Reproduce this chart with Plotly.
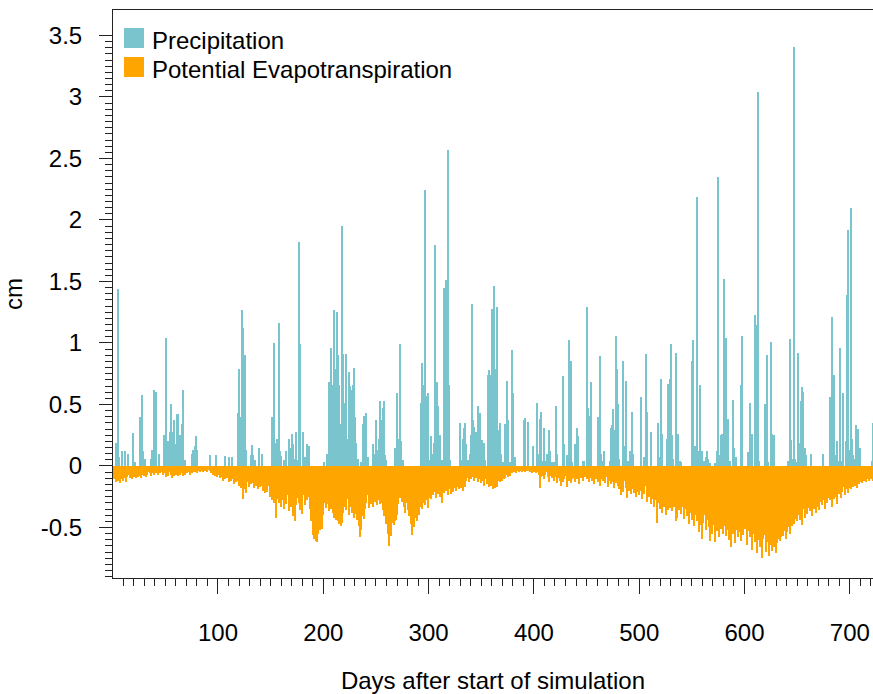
import plotly.graph_objects as go
import numpy as np

# ---------------- data (cm per day) ----------------
precip_days = [
    3, 5, 6, 9, 12, 15, 19, 20, 21, 26, 28, 29, 31, 36, 37, 39, 40, 41, 44, 49,
    51, 52, 53, 54, 55, 56, 57, 58, 60, 61, 62, 63, 64, 66, 67, 69, 75, 76, 78, 79,
    80, 92, 98, 107, 110, 113,
    119, 120, 121, 122, 123, 124, 125, 126, 127, 131, 132, 133, 135, 139, 142, 151, 153, 155, 156, 158,
    159, 160, 163, 165, 167, 168, 170, 171, 173, 174, 176, 177, 178, 181, 183, 185, 186,
    201, 204, 205, 206, 207, 208, 210, 211, 212, 213, 214, 215, 217, 218, 219, 220, 222, 223, 224, 225,
    226, 228, 229, 230, 231, 233, 236, 238, 239, 241, 242, 247, 248, 250, 251, 253, 254, 255, 257, 258,
    259, 260, 268, 270, 271, 272, 273, 274, 276,
    293, 294, 296, 297, 298, 299, 300, 302, 303, 305, 306, 307, 308, 309, 311, 312, 314, 315, 316, 317,
    318, 319, 320,
    330, 331, 333, 334, 335, 336, 337, 339, 340, 341, 342, 343, 345, 346, 347, 348, 349, 351, 352, 353, 354,
    356, 357, 358, 359, 360, 361, 362, 363, 364, 365, 366, 367, 368, 369, 371, 373, 374, 375, 376, 377,
    379, 380, 382,
    391, 392, 394, 399, 403, 404, 406, 407, 409, 410, 411, 412, 414, 415, 417, 418, 419, 421, 422, 428,
    429, 431, 433, 434, 435, 436, 439, 440, 441, 442, 447, 448, 450, 451, 452, 454,
    461, 462, 463, 464, 466, 467, 472, 473, 474, 475, 476, 478, 479, 480, 481, 485, 486, 487, 488, 489,
    491, 493, 494,
    502, 505, 506, 507, 511, 518, 519, 521, 522, 526, 527, 529, 530, 531, 532, 535, 536, 537, 539, 540,
    550, 551, 553, 554, 555, 556, 558, 560, 562, 563, 564, 565, 567, 572, 574, 575, 577, 578, 579, 581,
    582, 583, 584, 586, 589, 590, 592, 597, 598, 603, 604, 605, 606, 607,
    610, 611, 613, 614, 619, 621, 622, 625, 626, 628, 641, 643, 644, 646, 647, 648, 650, 651, 652, 654,
    655, 656, 657, 658, 663, 675,
    681, 682, 683, 684, 685, 687, 688, 690, 691, 692, 694, 696, 697, 698, 700, 701, 702, 703, 704, 706,
    708, 710, 721, 722,
]
precip_cm = [
    0.19, 1.44, 0.07, 0.12, 0.12, 0.10, 0.27, 0.03, 0.03, 0.40, 0.58, 0.12, 0.06, 0.06, 0.13, 0.62, 0.32, 0.60, 0.10, 0.25,
    1.04, 0.07, 0.20, 0.28, 0.50, 0.28, 0.20, 0.37, 0.18, 0.42, 0.42, 0.18, 0.25, 0.34, 0.62, 0.05, 0.10, 0.13, 0.16, 0.24,
    0.13, 0.09, 0.09, 0.08, 0.07, 0.07,
    0.43, 0.79, 0.40, 0.22, 1.27, 1.12, 0.31, 0.90, 0.13, 0.09, 0.17, 0.09, 0.05, 0.15, 0.10, 0.40, 1.00, 0.19, 0.22, 1.16,
    0.12, 0.08, 0.05, 0.12, 0.22, 0.15, 0.26, 0.18, 0.06, 0.28, 0.05, 1.82, 0.99, 0.28, 0.07, 0.18, 0.16,
    0.03, 0.10, 0.68, 0.50, 0.96, 0.66, 1.27, 0.78, 0.79, 1.25, 0.90, 0.66, 0.34, 1.95, 0.91, 0.51, 0.91, 0.22, 0.76, 0.65,
    0.62, 0.66, 0.80, 0.40, 0.19, 0.06, 0.03, 0.34, 0.41, 0.43, 0.07, 0.18, 0.10, 0.37, 0.13, 0.22, 0.53, 0.37, 0.47, 0.53,
    0.09, 0.05, 0.15, 0.59, 0.22, 0.13, 0.99, 0.20, 0.05,
    0.51, 0.84, 0.66, 2.24, 0.57, 0.59, 0.05, 0.24, 0.10, 0.19, 1.80, 0.56, 0.68, 0.49, 0.25, 0.05, 0.05, 1.45, 0.53, 1.51,
    2.57, 0.66, 0.05,
    0.35, 0.05, 0.22, 0.31, 0.35, 0.18, 0.05, 0.10, 0.25, 1.32, 0.37, 0.32, 0.28, 0.18, 0.49, 0.05, 0.43, 0.21, 0.19, 0.19, 0.05,
    0.74, 0.78, 0.74, 0.65, 1.28, 0.72, 1.46, 0.65, 0.79, 1.29, 0.29, 0.29, 0.35, 0.10, 0.03, 0.34, 0.69, 0.37, 0.03, 0.03,
    0.94, 0.59, 0.07,
    0.37, 0.39, 0.36, 0.16, 0.51, 0.10, 0.38, 0.44, 0.04, 0.31, 0.04, 0.10, 0.29, 0.12, 0.03, 0.03, 0.03, 0.49, 0.10, 0.73,
    0.18, 0.09, 1.02, 0.20, 0.85, 0.03, 0.18, 0.10, 0.31, 0.24, 0.04, 0.04, 1.29, 0.47, 0.41, 0.68,
    0.40, 0.11, 0.89, 0.10, 0.04, 0.12, 0.04, 0.31, 0.33, 0.46, 0.29, 1.06, 0.79, 0.50, 0.06, 0.85, 0.16, 0.69, 0.04, 0.04,
    0.12, 0.44, 0.10,
    0.56, 0.07, 0.91, 0.44, 0.28, 0.35, 0.07, 0.71, 0.26, 0.22, 0.67, 0.71, 0.99, 0.25, 0.06, 0.92, 0.21, 0.26, 0.04, 0.03,
    0.85, 1.02, 0.16, 0.03, 2.19, 0.12, 0.66, 0.12, 0.04, 0.07, 0.12, 0.06, 0.02, 0.02, 0.12, 2.35, 0.09, 0.25, 0.26, 1.52,
    1.04, 0.24, 0.38, 0.04, 0.54, 0.15, 0.07, 0.66, 1.06, 0.11, 0.04, 0.51, 0.24, 0.26,
    1.23, 1.15, 3.04, 0.04, 0.50, 0.90, 0.03, 1.01, 0.26, 0.25, 0.04, 1.03, 0.21, 0.06, 3.41, 0.06, 0.03, 0.92, 0.19, 0.53,
    0.64, 0.60, 0.15, 0.09, 0.10, 0.10,
    0.56, 0.04, 1.21, 0.04, 0.74, 0.09, 0.20, 0.04, 0.96, 0.04, 0.59, 0.20, 1.39, 1.92, 0.13, 2.10, 0.22, 0.09, 0.06, 0.33,
    0.30, 0.15, 0.04, 0.35,
]

# potential evapotranspiration, cm/day (drawn downward), day 1 onward
pet_cm = [
    0.11, 0.09, 0.13, 0.08, 0.12, 0.10, 0.14, 0.09, 0.11, 0.12, 0.08, 0.10, 0.13, 0.09, 0.07, 0.10, 0.08, 0.11, 0.06, 0.09,
    0.08, 0.10, 0.07, 0.09, 0.06, 0.08, 0.10, 0.07, 0.05, 0.08, 0.06, 0.09, 0.07, 0.05, 0.06, 0.08, 0.04, 0.06, 0.07, 0.05,
    0.06, 0.04, 0.07, 0.05, 0.06, 0.03, 0.05, 0.07, 0.06, 0.04, 0.09, 0.06, 0.08, 0.05, 0.07, 0.10, 0.06, 0.08, 0.05, 0.07,
    0.06, 0.08, 0.05, 0.07, 0.04, 0.06, 0.08, 0.05, 0.07, 0.04, 0.06, 0.05, 0.07, 0.04, 0.06, 0.05, 0.03, 0.05, 0.04, 0.06,
    0.04, 0.03, 0.05, 0.04, 0.03, 0.05, 0.02, 0.04, 0.03, 0.05, 0.03, 0.04, 0.06, 0.04, 0.07, 0.05, 0.08, 0.06, 0.09, 0.05,
    0.07, 0.10, 0.06, 0.09, 0.12, 0.08, 0.11, 0.07, 0.10, 0.13, 0.09, 0.12, 0.08, 0.11, 0.15, 0.10, 0.13, 0.09, 0.12, 0.16,
    0.11, 0.18, 0.14, 0.27, 0.19, 0.15, 0.22, 0.13, 0.17, 0.12, 0.15, 0.11, 0.14, 0.18, 0.12, 0.16, 0.13, 0.19, 0.14, 0.17,
    0.12, 0.16, 0.20, 0.15, 0.22, 0.17, 0.21, 0.16, 0.25, 0.19, 0.28, 0.22, 0.30, 0.24, 0.42, 0.27, 0.21, 0.30, 0.25, 0.33,
    0.22, 0.28, 0.35, 0.26, 0.31, 0.24, 0.37, 0.29, 0.33, 0.27, 0.41, 0.30, 0.45, 0.32, 0.26, 0.22, 0.30, 0.36, 0.28, 0.39,
    0.16, 0.24, 0.32, 0.20, 0.28, 0.25, 0.35, 0.45, 0.43, 0.56, 0.59, 0.57, 0.61, 0.62, 0.55, 0.50, 0.52, 0.48, 0.51, 0.40,
    0.30, 0.22, 0.34, 0.31, 0.37, 0.29, 0.35, 0.32, 0.38, 0.42, 0.36, 0.44, 0.39, 0.45, 0.47, 0.43, 0.49, 0.46, 0.38, 0.33,
    0.29, 0.36, 0.27, 0.40, 0.33, 0.31, 0.38, 0.34, 0.42, 0.39, 0.37, 0.44, 0.36, 0.49, 0.58, 0.52, 0.41, 0.37, 0.43, 0.35,
    0.30, 0.24, 0.34, 0.20, 0.31, 0.27, 0.33, 0.25, 0.29, 0.23, 0.32, 0.28, 0.26, 0.31, 0.24, 0.30, 0.36, 0.41, 0.34, 0.47,
    0.55, 0.65, 0.44, 0.57, 0.46, 0.43, 0.48, 0.45, 0.44, 0.40, 0.31, 0.18, 0.26, 0.22, 0.29, 0.24, 0.33, 0.38, 0.30, 0.36,
    0.41, 0.35, 0.47, 0.56, 0.44, 0.50, 0.42, 0.38, 0.45, 0.36, 0.40, 0.33, 0.27, 0.35, 0.30, 0.25, 0.32, 0.28, 0.34, 0.26,
    0.22, 0.27, 0.19, 0.24, 0.14, 0.21, 0.26, 0.17, 0.23, 0.20, 0.25, 0.13, 0.30, 0.18, 0.22, 0.15, 0.20, 0.24, 0.12, 0.19,
    0.23, 0.16, 0.21, 0.18, 0.14, 0.20, 0.17, 0.13, 0.19, 0.16, 0.18, 0.15, 0.20, 0.14, 0.17, 0.12, 0.10, 0.13, 0.08, 0.11,
    0.06, 0.09, 0.12, 0.07, 0.10, 0.08, 0.13, 0.11, 0.09, 0.14, 0.10, 0.12, 0.16, 0.11, 0.15, 0.13, 0.17, 0.12, 0.16, 0.14,
    0.19, 0.15, 0.18, 0.13, 0.17, 0.12, 0.11, 0.13, 0.09, 0.12, 0.08, 0.11, 0.10, 0.07, 0.09, 0.06, 0.08, 0.05, 0.06, 0.04,
    0.05, 0.04, 0.06, 0.03, 0.04, 0.05, 0.03, 0.04, 0.05, 0.04, 0.03, 0.05, 0.04, 0.04, 0.03, 0.05, 0.04, 0.06, 0.04, 0.05,
    0.04, 0.06, 0.05, 0.04, 0.07, 0.18, 0.09, 0.06, 0.08, 0.11, 0.07, 0.05, 0.09, 0.13, 0.08, 0.06, 0.10, 0.07, 0.12, 0.08,
    0.09, 0.14, 0.10, 0.07, 0.12, 0.16, 0.09, 0.13, 0.11, 0.08, 0.17, 0.10, 0.12, 0.09, 0.14, 0.11, 0.07, 0.10, 0.13, 0.08,
    0.11, 0.09, 0.15, 0.07, 0.10, 0.08, 0.12, 0.06, 0.09, 0.11, 0.08, 0.13, 0.10, 0.07, 0.12, 0.09, 0.15, 0.08, 0.11, 0.10,
    0.13, 0.09, 0.16, 0.11, 0.08, 0.12, 0.10, 0.14, 0.09, 0.17, 0.12, 0.10, 0.15, 0.11, 0.13, 0.18, 0.10, 0.14, 0.12, 0.16,
    0.19, 0.13, 0.24, 0.15, 0.21, 0.12, 0.18, 0.26, 0.14, 0.20, 0.17, 0.23, 0.15, 0.19, 0.22, 0.16, 0.25, 0.18, 0.21, 0.24,
    0.17, 0.20, 0.27, 0.19, 0.23, 0.16, 0.29, 0.21, 0.25, 0.18, 0.31, 0.22, 0.27, 0.33, 0.24, 0.28, 0.46, 0.30, 0.26, 0.35,
    0.29, 0.38, 0.27, 0.33, 0.40, 0.30, 0.36, 0.28, 0.34, 0.31, 0.37, 0.25, 0.33, 0.29, 0.45, 0.42, 0.30, 0.36, 0.27, 0.39,
    0.33, 0.28, 0.43, 0.35, 0.41, 0.32, 0.47, 0.38, 0.34, 0.44, 0.37, 0.49, 0.40, 0.35, 0.45, 0.41, 0.54, 0.43, 0.48, 0.59,
    0.46, 0.40, 0.52, 0.44, 0.38, 0.50, 0.61, 0.45, 0.55, 0.42, 0.48, 0.62, 0.47, 0.53, 0.44, 0.58, 0.46, 0.51, 0.41, 0.55,
    0.49, 0.57, 0.43, 0.52, 0.60, 0.47, 0.66, 0.50, 0.55, 0.45, 0.63, 0.52, 0.48, 0.58, 0.44, 0.54, 0.61, 0.49, 0.56, 0.51,
    0.46, 0.64, 0.53, 0.47, 0.58, 0.50, 0.68, 0.55, 0.49, 0.62, 0.57, 0.71, 0.52, 0.60, 0.66, 0.54, 0.75, 0.59, 0.56, 0.70,
    0.62, 0.58, 0.73, 0.64, 0.55, 0.69, 0.60, 0.66, 0.57, 0.71, 0.63, 0.59, 0.56, 0.61, 0.58, 0.55, 0.57, 0.53, 0.59, 0.54,
    0.50, 0.46, 0.55, 0.41, 0.49, 0.38, 0.47, 0.43, 0.36, 0.45, 0.40, 0.33, 0.44, 0.37, 0.48, 0.35, 0.42, 0.31, 0.39, 0.34,
    0.29, 0.37, 0.32, 0.41, 0.30, 0.35, 0.27, 0.38, 0.33, 0.26, 0.36, 0.29, 0.24, 0.32, 0.28, 0.35, 0.23, 0.30, 0.26, 0.21,
    0.28, 0.24, 0.33, 0.22, 0.27, 0.19, 0.25, 0.31, 0.20, 0.23, 0.18, 0.26, 0.21, 0.17, 0.24, 0.19, 0.16, 0.22, 0.18, 0.15,
    0.19, 0.14, 0.17, 0.13, 0.16, 0.12, 0.18, 0.11, 0.15, 0.13, 0.10, 0.14, 0.12, 0.09, 0.13, 0.11, 0.10, 0.12, 0.09, 0.11,
    0.10, 0.12, 0.09, 0.11, 0.10, 0.08, 0.11, 0.09, 0.10, 0.12,
]
pet_days = list(range(1, len(pet_cm) + 1))

x_tickvals = [100, 200, 300, 400, 500, 600, 700]
y_tickvals = [-0.5, 0, 0.5, 1, 1.5, 2, 2.5, 3, 3.5]
y_ticktext = ["-0.5", "0", "0.5", "1", "1.5", "2", "2.5", "3", "3.5"]
series_names = ["Precipitation", "Potential Evapotranspiration"]

# ---------------- style ----------------
TEAL = "#7AC5CD"
ORANGE = "#FFA500"
FONT = "Liberation Sans, Arial, sans-serif"
FS = 24
W, H = 873, 694
L, R, T, B = 113, 0, 10, 116
pw, ph = W - L - R, H - T - B

fig = go.Figure()
fig.add_trace(go.Bar(x=pet_days, y=[-v for v in pet_cm], width=1.0, name=series_names[1],
                     marker=dict(color=ORANGE, line=dict(width=0)), showlegend=False))
fig.add_trace(go.Bar(x=precip_days, y=precip_cm, width=1.0, name=series_names[0],
                     marker=dict(color=TEAL, line=dict(width=0)), showlegend=False))

# manual legend (pixel -> paper)
def px(xp):
    return (xp - L) / pw

def py(yp):
    return (H - B - yp) / ph

for i, (name, col) in enumerate(zip(series_names, [TEAL, ORANGE])):
    top = 28 + i * 29
    fig.add_shape(type="rect", xref="paper", yref="paper",
                  x0=px(124), x1=px(144), y0=py(top + 20), y1=py(top),
                  fillcolor=col, line=dict(width=0))
    fig.add_annotation(xref="paper", yref="paper", x=px(150), y=py(top + 12),
                       text=name, showarrow=False, xanchor="left", yanchor="middle",
                       font=dict(family=FONT, size=FS, color="black"))

minor_y = [round(v, 3) for v in np.arange(-0.9, 3.5001, 0.05)]

fig.update_layout(
    width=W, height=H, margin=dict(l=L, r=R, t=T, b=B, autoexpand=False),
    paper_bgcolor="white", plot_bgcolor="white",
    barmode="overlay", bargap=0,
    font=dict(family=FONT, size=FS, color="black"),
    xaxis=dict(range=[0.3, 722], showgrid=False, zeroline=False,
               showline=True, linecolor="#222", linewidth=1, mirror=True,
               tickmode="array", tickvals=x_tickvals, ticks="outside", ticklen=15,
               tickcolor="#222", tickwidth=1, ticklabelstandoff=18,
               minor=dict(tickmode="linear", tick0=0, dtick=10, ticks="outside",
                          ticklen=7, tickcolor="#222", tickwidth=1, showgrid=False),
               title=dict(text="Days after start of simulation", standoff=28,
                          font=dict(family=FONT, size=FS))),
    yaxis=dict(range=[-0.911, 3.707], showgrid=False, zeroline=False,
               showline=True, linecolor="#222", linewidth=1,
               tickmode="array", tickvals=y_tickvals, ticktext=y_ticktext,
               ticks="outside", ticklen=13, tickcolor="#222", tickwidth=1,
               ticklabelstandoff=12,
               minor=dict(tickmode="array", tickvals=minor_y, ticks="outside",
                          ticklen=7, tickcolor="#222", tickwidth=1, showgrid=False),
               title=dict(text="cm", standoff=14, font=dict(family=FONT, size=FS))),
)

fig.write_html("out.html")
